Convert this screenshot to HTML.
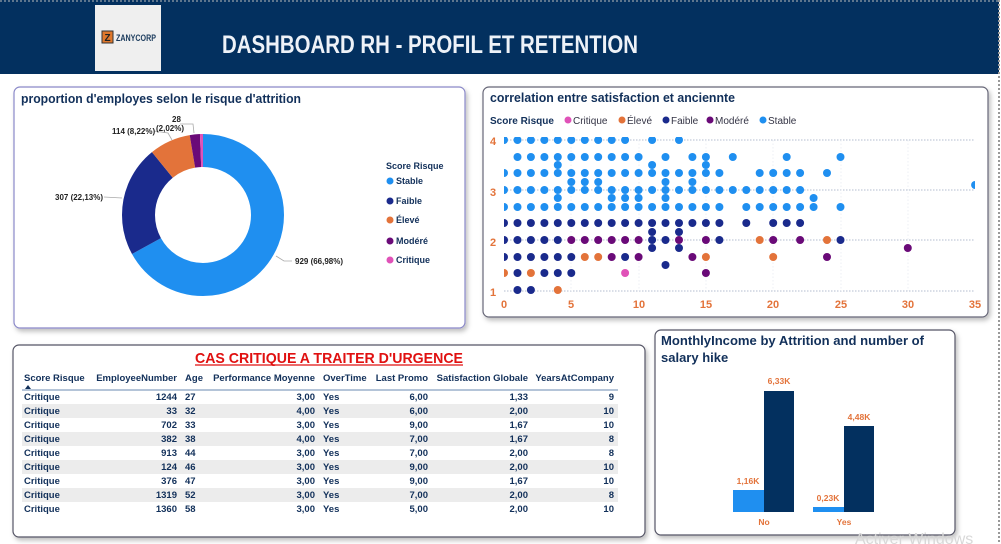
<!DOCTYPE html>
<html><head><meta charset="utf-8"><style>
html,body{margin:0;padding:0;background:#fff;width:1001px;height:544px;overflow:hidden}
svg{display:block}
text{font-family:"Liberation Sans Narrow","Liberation Sans",sans-serif;font-weight:bold}
</style></head><body>
<svg id="s" width="1001" height="544" viewBox="0 0 1001 544" xmlns="http://www.w3.org/2000/svg">
<defs>
<filter id="sh" x="-5%" y="-5%" width="112%" height="115%"><feDropShadow dx="2" dy="3" stdDeviation="2.5" flood-color="#000" flood-opacity="0.25"/></filter>
<clipPath id="pc"><rect x="504" y="137" width="471" height="160"/></clipPath>
</defs>
<rect x="0" y="0" width="1001" height="544" fill="#fff"/>
<rect x="0" y="0" width="999" height="74" fill="#03305f"/>
<line x1="0" y1="1" x2="999" y2="1" stroke="#bbb" stroke-dasharray="2,2"/>
<line x1="999" y1="0" x2="999" y2="544" stroke="#999" stroke-dasharray="2,2" stroke-width="2"/>
<rect x="95" y="5" width="66" height="66" fill="#efefef"/>
<rect x="102" y="31" width="11" height="12" fill="#e0782c" stroke="#333" stroke-width="1"/>
<text x="107.5" y="41" font-size="10" fill="#222" text-anchor="middle">Z</text>
<text x="116" y="41" font-size="9.5" fill="#1a3a5c" textLength="40" lengthAdjust="spacingAndGlyphs">ZANYCORP</text>
<text x="222" y="53" font-size="25" fill="#eef2f8" textLength="416" lengthAdjust="spacingAndGlyphs">DASHBOARD RH - PROFIL ET RETENTION</text>

<rect x="14" y="87" width="451" height="241" rx="6" fill="#fff" stroke="#8a88c8" stroke-width="1.2" filter="url(#sh)"/>
<rect x="483" y="87" width="505" height="230" rx="6" fill="#fff" stroke="#667" stroke-width="1.2" filter="url(#sh)"/>
<rect x="13" y="345" width="632" height="192" rx="6" fill="#fff" stroke="#556" stroke-width="1.2" filter="url(#sh)"/>
<rect x="655" y="330" width="300" height="205" rx="6" fill="#fff" stroke="#556" stroke-width="1.2" filter="url(#sh)"/>

<text x="21" y="103" font-size="13" fill="#12305a" textLength="280" lengthAdjust="spacingAndGlyphs">proportion d'employes selon le risque d'attrition</text>
<g transform="rotate(-90 203 215)" fill="none" stroke-width="33">
<circle cx="203" cy="215" r="64.5" stroke="#1f8ff0" stroke-dasharray="271.45 500" stroke-dashoffset="0"/>
<circle cx="203" cy="215" r="64.5" stroke="#1a2a8c" stroke-dasharray="89.69 500" stroke-dashoffset="-271.45"/>
<circle cx="203" cy="215" r="64.5" stroke="#e3733a" stroke-dasharray="33.31 500" stroke-dashoffset="-361.14"/>
<circle cx="203" cy="215" r="64.5" stroke="#6a0a78" stroke-dasharray="8.19 500" stroke-dashoffset="-394.45"/>
<circle cx="203" cy="215" r="64.5" stroke="#e052b8" stroke-dasharray="2.63 500" stroke-dashoffset="-402.64"/>
</g>
<g fill="none" stroke="#aaa" stroke-width="0.8">
<polyline points="104,197 122,198"/>
<polyline points="154,131 168,133 172,140"/>
<polyline points="180,124 193,124 194,133"/>
<polyline points="276,256 284,261 292,261"/>
</g>
<g font-size="8" fill="#222">
<text x="55" y="200">307 (22,13%)</text>
<text x="112" y="134">114 (8,22%)</text>
<text x="172" y="122">28</text>
<text x="156" y="131">(2,02%)</text>
<text x="295" y="264">929 (66,98%)</text>
</g>
<text x="386" y="169" font-size="9" fill="#12305a">Score Risque</text>
<g font-size="9" fill="#12305a">
<circle cx="390" cy="181" r="3.5" fill="#1f8ff0"/><text x="396" y="184">Stable</text>
<circle cx="390" cy="201" r="3.5" fill="#1a2a8c"/><text x="396" y="204">Faible</text>
<circle cx="390" cy="220" r="3.5" fill="#e3733a"/><text x="396" y="223">Élevé</text>
<circle cx="390" cy="241" r="3.5" fill="#6a0a78"/><text x="396" y="244">Modéré</text>
<circle cx="390" cy="260" r="3.5" fill="#e052b8"/><text x="396" y="263">Critique</text>
</g>

<text x="490" y="102" font-size="13" fill="#12305a" textLength="245" lengthAdjust="spacingAndGlyphs">correlation entre satisfaction et anciennte</text>
<text x="490" y="124" font-size="10" fill="#12305a">Score Risque</text>
<g font-size="10" fill="#334">
<circle cx="568" cy="120" r="3.5" fill="#e052b8"/><text x="573" y="124" style="font-weight:normal">Critique</text>
<circle cx="622" cy="120" r="3.5" fill="#e3733a"/><text x="627" y="124" style="font-weight:normal">Élevé</text>
<circle cx="666" cy="120" r="3.5" fill="#1a2a8c"/><text x="671" y="124" style="font-weight:normal">Faible</text>
<circle cx="710" cy="120" r="3.5" fill="#6a0a78"/><text x="715" y="124" style="font-weight:normal">Modéré</text>
<circle cx="763" cy="120" r="3.5" fill="#1f8ff0"/><text x="768" y="124" style="font-weight:normal">Stable</text>
</g>
<g stroke="#9aa8c0" stroke-width="0.8" stroke-dasharray="1.5,1.5">
<line x1="504" y1="140" x2="975" y2="140"/><line x1="504" y1="190" x2="975" y2="190"/>
<line x1="504" y1="240" x2="975" y2="240"/><line x1="504" y1="291" x2="975" y2="291"/>
</g>
<g stroke="#e4e8f0" stroke-width="0.7" stroke-dasharray="1.5,2">
<line x1="571" y1="140" x2="571" y2="291"/><line x1="639" y1="140" x2="639" y2="291"/>
<line x1="706" y1="140" x2="706" y2="291"/><line x1="773" y1="140" x2="773" y2="291"/>
<line x1="841" y1="140" x2="841" y2="291"/><line x1="908" y1="140" x2="908" y2="291"/>
</g>
<g font-size="11" fill="#e3733a" text-anchor="middle">
<text x="493" y="145">4</text><text x="493" y="196">3</text><text x="493" y="246">2</text><text x="493" y="296">1</text>
<text x="504" y="308">0</text><text x="571" y="308">5</text><text x="639" y="308">10</text><text x="706" y="308">15</text>
<text x="773" y="308">20</text><text x="841" y="308">25</text><text x="908" y="308">30</text><text x="975" y="308">35</text>
</g>
<g id="dots" clip-path="url(#pc)"></g>

<text x="329" y="363" font-size="15" fill="#e01010" text-anchor="middle" textLength="268" lengthAdjust="spacingAndGlyphs">CAS CRITIQUE A TRAITER D'URGENCE</text>
<line x1="195" y1="365" x2="463" y2="365" stroke="#e01010" stroke-width="1.2"/>
<g font-size="9.5" fill="#12305a">
<text x="24" y="381">Score Risque</text>
<text x="177" y="381" text-anchor="end">EmployeeNumber</text>
<text x="203" y="381" text-anchor="end">Age</text>
<text x="315" y="381" text-anchor="end">Performance Moyenne</text>
<text x="323" y="381">OverTime</text>
<text x="428" y="381" text-anchor="end">Last Promo</text>
<text x="528" y="381" text-anchor="end">Satisfaction Globale</text>
<text x="614" y="381" text-anchor="end">YearsAtCompany</text>
</g>
<path d="M25 389 L28 385 L31 389Z" fill="#12305a"/>
<line x1="22" y1="390" x2="618" y2="390" stroke="#6a8ab0" stroke-width="1"/>
<g fill="#ececec">
<rect x="22" y="404" width="596" height="14"/><rect x="22" y="432" width="596" height="14"/>
<rect x="22" y="460" width="596" height="14"/><rect x="22" y="488" width="596" height="14"/>
</g>
<g id="tbl" font-size="9.5" fill="#12305a"></g>

<text x="661" y="345" font-size="13" fill="#12305a" textLength="263" lengthAdjust="spacingAndGlyphs">MonthlyIncome by Attrition and number of</text>
<text x="661" y="362" font-size="13" fill="#12305a">salary hike</text>
<rect x="733" y="490" width="31" height="22" fill="#1f8ff0"/>
<rect x="764" y="391" width="30" height="121" fill="#03305f"/>
<rect x="813" y="507" width="31" height="5" fill="#1f8ff0"/>
<rect x="844" y="426" width="30" height="86" fill="#03305f"/>
<g font-size="8.5" fill="#e3733a" text-anchor="middle">
<text x="748" y="484">1,16K</text><text x="779" y="384">6,33K</text>
<text x="828" y="501">0,23K</text><text x="859" y="420">4,48K</text>
<text x="764" y="525">No</text><text x="844" y="525">Yes</text>
</g>
<text x="855" y="544" font-size="16" fill="#d8d8d8" style="font-weight:normal">Activer Windows</text>
</svg>
<script>
var C={s:"#1f8ff0",f:"#1a2a8c",e:"#e3733a",m:"#6a0a78",c:"#e052b8"};
var rows=[
[140,"s",[0,1,2,3,4,5,6,7,8,9,11,13]],
[157,"s",[1,2,3,4,5,6,7,8,9,10,12,14,15,17,21,25]],
[165,"s",[4,11,15]],
[173,"s",[0,1,2,3,4,5,6,7,8,9,10,11,12,13,14,15,16,19,20,21,22,24]],
[182,"s",[5,6,7,12,14]],
[190,"s",[0,1,2,3,4,5,6,7,8,9,10,11,12,13,14,15,16,17,18,19,20,21,22]],
[185,"s",[35]],
[198,"s",[4,8,9,10,12,23]],
[207,"s",[0,1,2,3,4,5,6,7,8,9,10,11,12,13,14,15,16,18,19,20,21,22,23,25]],
[223,"f",[0,1,2,3,4,5,6,7,8,9,10,11,12,13,14,15,16,18,20,21,22]],
[232,"f",[11,13]],
[240,"f",[0,1,2,3,4,11,12,16,25]],
[240,"m",[5,6,7,8,9,10,13,15,20,22]],
[240,"e",[19,24]],
[248,"f",[11,13]],[248,"m",[30]],
[257,"f",[0,1,2,3,4,5,9]],[257,"e",[6,7,15,20]],[257,"m",[8,10,14,24]],
[265,"f",[12]],
[273,"e",[0,2]],[273,"f",[1,3,4,5]],[273,"c",[9]],[273,"m",[15]],
[290,"f",[1,2]],[290,"e",[4]]];
var h="";rows.forEach(function(r){r[2].forEach(function(x){h+='<circle cx="'+(504+x*13.46).toFixed(1)+'" cy="'+r[0]+'" r="4" fill="'+C[r[1]]+'"/>';});});
document.getElementById("dots").innerHTML=h;
var T=[[1244,27,"3,00","6,00","1,33",9],[33,32,"4,00","6,00","2,00",10],[702,33,"3,00","9,00","1,67",10],[382,38,"4,00","7,00","1,67",8],[913,44,"3,00","7,00","2,00",8],[124,46,"3,00","9,00","2,00",10],[376,47,"3,00","9,00","1,67",10],[1319,52,"3,00","7,00","2,00",8],[1360,58,"3,00","5,00","2,00",10]];
var t="";T.forEach(function(r,i){var y=400+i*14;
t+='<text x="24" y="'+y+'">Critique</text><text x="177" y="'+y+'" text-anchor="end">'+r[0]+'</text><text x="185" y="'+y+'">'+r[1]+'</text><text x="315" y="'+y+'" text-anchor="end">'+r[2]+'</text><text x="323" y="'+y+'">Yes</text><text x="428" y="'+y+'" text-anchor="end">'+r[3]+'</text><text x="528" y="'+y+'" text-anchor="end">'+r[4]+'</text><text x="614" y="'+y+'" text-anchor="end">'+r[5]+'</text>';});
document.getElementById("tbl").innerHTML=t;
</script>
</body></html>
